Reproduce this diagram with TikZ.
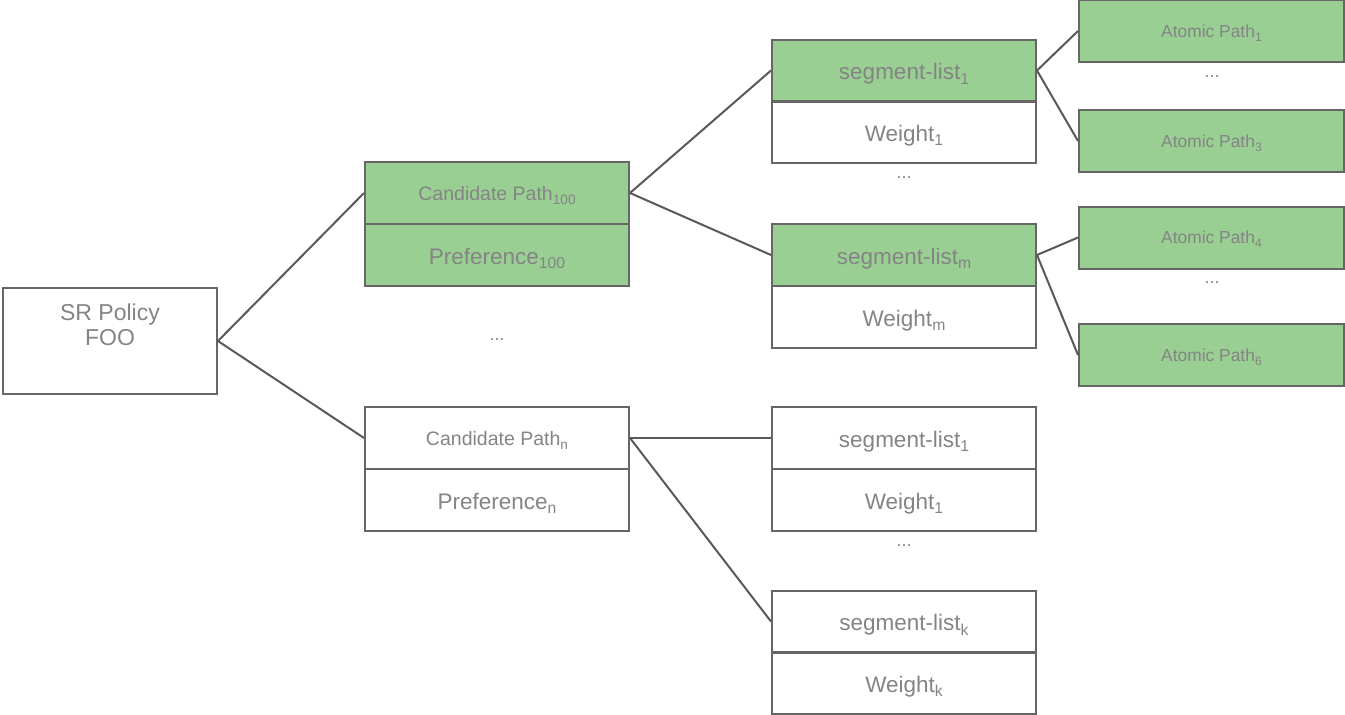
\documentclass[tikz,border=0pt]{standalone}
\usepackage{fontspec}
\setmainfont{Liberation Sans}
\definecolor{bd}{RGB}{102,102,102}
\definecolor{tx}{RGB}{132,132,132}
\definecolor{gr}{RGB}{154,207,148}
\definecolor{ln}{RGB}{89,89,89}
\makeatletter
\newcommand\ssub[1]{\raisebox{-0.22em}{\fontsize{\fpeval{0.7*\f@size}}{0}\selectfont #1}}
\makeatother
\begin{document}
\begin{tikzpicture}[x=1pt,y=-1pt,
  cell/.style={draw=bd,line width=2pt,minimum width=264pt,minimum height=62pt,inner sep=0pt,text=tx,font=\fontsize{22.5}{27}\selectfont,text height=20pt,text depth=2pt},
  grcell/.style={cell,fill=gr},
  cpstyle/.style={font=\fontsize{19.5}{23}\selectfont,text height=16pt,text depth=2pt},
  apcell/.style={grcell,minimum width=265pt,font=\fontsize{17.4}{21}\selectfont,text height=14pt,text depth=1.5pt},
  dots/.style={text=tx,font=\fontsize{18}{20}\selectfont,inner sep=0pt},
  conn/.style={draw=ln,line width=2pt}]
\useasboundingbox (0,0) rectangle (1345,715);
% root
\node[cell,minimum width=214pt,minimum height=106pt,text height=,text depth=] (sr) at (110,341) {};
\node[text=tx,font=\fontsize{23}{25.5}\selectfont,align=center,anchor=north,inner sep=0pt] (srtext) at (110,303.5) {SR Policy\\FOO};
% candidate paths
\node[grcell,cpstyle] (cp100) at (497,193) {Candidate Path\ssub{100}};
\node[grcell] (pr100) at (497,255) {Preference\ssub{100}};
\node[dots] (d1) at (497,340) {...};
\node[cell,cpstyle] (cpn) at (497,438) {Candidate Path\ssub{n}};
\node[cell] (prn) at (497,500) {Preference\ssub{n}};
% segment lists of CP100
\node[grcell] (sl1) at (904,70.5) {segment-list\ssub{1}};
\node[cell] (w1) at (904,132) {Weight\ssub{1}};
\node[dots] (d2) at (904,178) {...};
\node[grcell] (slm) at (904,255) {segment-list\ssub{m}};
\node[cell] (wm) at (904,317) {Weight\ssub{m}};
% segment lists of CPn
\node[cell] (sln1) at (904,438) {segment-list\ssub{1}};
\node[cell] (wn1) at (904,500) {Weight\ssub{1}};
\node[dots] (d3) at (904,546) {...};
\node[cell] (slk) at (904,621.5) {segment-list\ssub{k}};
\node[cell] (wk) at (904,683) {Weight\ssub{k}};
% atomic paths
\node[apcell] (ap1) at (1211.5,31) {Atomic Path\ssub{1}};
\node[dots] (d4) at (1212,77) {...};
\node[apcell] (ap3) at (1211.5,141) {Atomic Path\ssub{3}};
\node[apcell] (ap4) at (1211.5,237.5) {Atomic Path\ssub{4}};
\node[dots] (d5) at (1212,283) {...};
\node[apcell] (ap6) at (1211.5,355) {Atomic Path\ssub{6}};
% connectors
\draw[conn] (sr.east) -- (cp100.west);
\draw[conn] (sr.east) -- (cpn.west);
\draw[conn] (cp100.east) -- (sl1.west);
\draw[conn] (cp100.east) -- (slm.west);
\draw[conn] (cpn.east) -- (sln1.west);
\draw[conn] (cpn.east) -- (slk.west);
\draw[conn] (sl1.east) -- (ap1.west);
\draw[conn] (sl1.east) -- (ap3.west);
\draw[conn] (slm.east) -- (ap4.west);
\draw[conn] (slm.east) -- (ap6.west);
\end{tikzpicture}
\end{document}
